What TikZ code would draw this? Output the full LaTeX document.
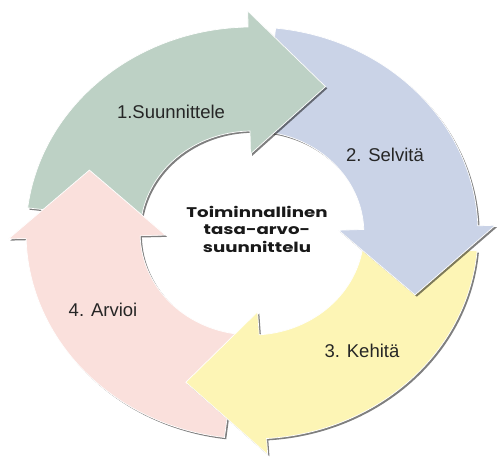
\documentclass[tikz,border=0pt]{standalone}
\usepackage{fontspec}
\setmainfont{Liberation Sans}
\newfontfamily\ctrfont{Poppins}
\definecolor{cgreen}{HTML}{BDD1C5}
\definecolor{cblue}{HTML}{CAD3E7}
\definecolor{cyellow}{HTML}{FDF5B5}
\definecolor{cpink}{HTML}{FAE0DC}
% tail angle, base angle, tip angle
\newcommand\cycarrow[3]{(#1:206) arc[start angle=#1, end angle=#2, radius=206] -- (#2:222) -- (#3:161) -- (#2:79) -- (#2:102) arc[start angle=#2, end angle=#1, radius=102] -- cycle}
\tikzset{
  shade/.style={fill=black, opacity=0.5},
  band/.style={draw=white, line width=0.7pt},
  lbl/.style={font=\fontsize{18.5}{20}\selectfont, anchor=base, text=black!85},
}
\begin{document}
\begin{tikzpicture}[x=1pt,y=1pt]
\useasboundingbox (0,0) rectangle (499,466);
\fill[white] (0,0) rectangle (499,466);
\begin{scope}[shift={(252,233)}, xscale=1.097]
  % pink
  \fill[shade, shift={(1.6,-1.8)}] \cycarrow{263}{181.5}{157};
  \fill[cpink, band] \cycarrow{263}{181.5}{157};
  % yellow
  \fill[shade, shift={(1.6,-1.8)}] \cycarrow{-5}{-86.3}{-112};
  \fill[cyellow, band] \cycarrow{-5}{-86.3}{-112};
  % blue
  \fill[shade, shift={(1.6,-1.8)}] \cycarrow{84}{2}{-22.6};
  \fill[cblue, band] \cycarrow{84}{2}{-22.6};
  % green
  \fill[shade, shift={(1.6,-1.8)}] \cycarrow{173}{91}{65.4};
  \fill[cgreen, band] \cycarrow{173}{91}{65.4};
  % pink head again, over the green tail
  \begin{scope}
    \clip (181.5:70) -- (181.5:250) -- (140:250) -- (140:70) -- cycle;
    \fill[cpink, band] \cycarrow{263}{181.5}{157};
  \end{scope}
\end{scope}
\node[lbl] (s1) at (171,347) {1.Suunnittele};
\node[lbl] (s2) at (385,304) {2. Selvitä};
\node[lbl] (s3) at (362,108) {3. Kehitä};
\node[lbl] (s4) at (103,149) {4. Arvioi};
\node[font=\ctrfont\bfseries\fontsize{14}{17.5}\selectfont, align=center, text=black!90, xscale=1.3, transform shape] (ctr) at (257,237) {Toiminnallinen\\tasa-arvo-\\suunnittelu};
\end{tikzpicture}
\end{document}
